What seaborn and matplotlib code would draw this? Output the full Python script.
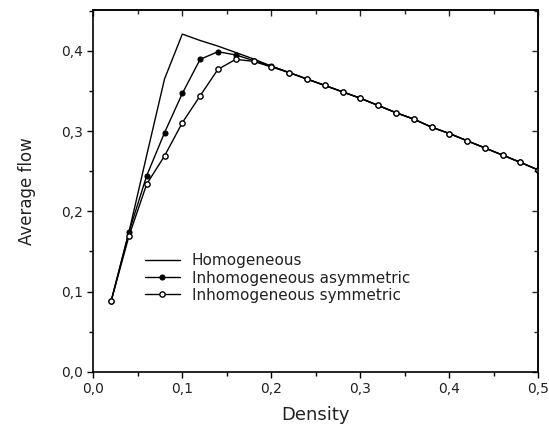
import matplotlib
matplotlib.use("Agg")
import matplotlib.pyplot as plt
import matplotlib.ticker as mticker
import seaborn as sns
import pandas as pd

density = [0.02, 0.04, 0.06, 0.08, 0.10, 0.12, 0.14, 0.16, 0.18, 0.20,
           0.22, 0.24, 0.26, 0.28, 0.30, 0.32, 0.34, 0.36, 0.38, 0.40,
           0.42, 0.44, 0.46, 0.48, 0.50]

homogeneous = [0.088, 0.174, 0.270, 0.365, 0.421, 0.413, 0.406, 0.398, 0.390, 0.381,
               0.373, 0.365, 0.357, 0.349, 0.341, 0.332, 0.323, 0.315, 0.305, 0.297,
               0.288, 0.279, 0.270, 0.261, 0.2515]

inhom_asym = [0.088, 0.174, 0.2445, 0.298, 0.347, 0.3895, 0.399, 0.395, 0.388, 0.381,
              0.373, 0.365, 0.357, 0.349, 0.341, 0.332, 0.323, 0.315, 0.305, 0.297,
              0.288, 0.279, 0.270, 0.261, 0.2515]

inhom_sym = [0.088, 0.169, 0.234, 0.269, 0.3105, 0.344, 0.377, 0.3895, 0.387, 0.380,
             0.373, 0.365, 0.357, 0.349, 0.341, 0.332, 0.323, 0.315, 0.305, 0.297,
             0.288, 0.279, 0.270, 0.261, 0.2515]

series_names = ["Homogeneous", "Inhomogeneous asymmetric", "Inhomogeneous symmetric"]

sns.set_theme(style="ticks")
plt.rcParams['font.family'] = ['DejaVu Sans']

fig = plt.figure(figsize=(5.49, 4.28), dpi=100)
ax = fig.add_axes([0.170, 0.1315, 0.8105, 0.8451])

df_h = pd.DataFrame({"Density": density, "Flow": homogeneous})
df_a = pd.DataFrame({"Density": density, "Flow": inhom_asym})
df_s = pd.DataFrame({"Density": density, "Flow": inhom_sym})

sns.lineplot(data=df_h, x="Density", y="Flow", ax=ax, color="black", lw=1.0,
             label=series_names[0])
sns.lineplot(data=df_a, x="Density", y="Flow", ax=ax, color="black", lw=1.0,
             marker="o", markersize=3.6, markerfacecolor="black",
             markeredgecolor="black", markeredgewidth=0.8, label=series_names[1])
sns.lineplot(data=df_s, x="Density", y="Flow", ax=ax, color="black", lw=1.0,
             marker="o", markersize=3.8, markerfacecolor="white",
             markeredgecolor="black", markeredgewidth=1.0, label=series_names[2])

ax.set_xlim(0, 0.5)
ax.set_ylim(0, 0.451)
ax.xaxis.set_major_locator(mticker.MultipleLocator(0.1))
ax.xaxis.set_minor_locator(mticker.MultipleLocator(0.05))
ax.yaxis.set_major_locator(mticker.MultipleLocator(0.1))
ax.yaxis.set_minor_locator(mticker.MultipleLocator(0.05))
fmt = mticker.FuncFormatter(lambda v, p: f"{v:.1f}".replace(".", ","))
ax.xaxis.set_major_formatter(fmt)
ax.yaxis.set_major_formatter(fmt)

for s in ax.spines.values():
    s.set_linewidth(1.2)
    s.set_color("black")

ax.tick_params(axis="both", which="both", direction="out", color="black",
               labelsize=10, labelcolor="#222222", width=1.0)
ax.tick_params(which="major", length=4)
ax.tick_params(which="minor", length=3)

# inward ticks on top and right
ax2 = ax.secondary_xaxis("top")
ax2.xaxis.set_major_locator(mticker.MultipleLocator(0.1))
ax2.xaxis.set_minor_locator(mticker.MultipleLocator(0.05))
ax2.tick_params(which="both", direction="in", labeltop=False, width=1.0)
ax2.tick_params(which="major", length=4)
ax2.tick_params(which="minor", length=3)
ax2.spines["top"].set_linewidth(1.2)
ay2 = ax.secondary_yaxis("right")
ay2.yaxis.set_major_locator(mticker.MultipleLocator(0.1))
ay2.yaxis.set_minor_locator(mticker.MultipleLocator(0.05))
ay2.tick_params(which="both", direction="in", labelright=False, width=1.0)
ay2.tick_params(which="major", length=4)
ay2.tick_params(which="minor", length=3)
ay2.spines["right"].set_linewidth(1.2)

ax.set_xlabel("Density", fontsize=13, color="#222222", labelpad=7)
ax.set_ylabel("Average flow", fontsize=12, color="#222222", labelpad=18)

leg = ax.legend(loc="center left", bbox_to_anchor=(0.115, 0.259), frameon=False,
                fontsize=11, handlelength=2.3, handletextpad=0.8,
                labelspacing=0.15, borderpad=0, borderaxespad=0)
for t in leg.get_texts():
    t.set_color("#222222")

fig.savefig("out.png", dpi=100)
